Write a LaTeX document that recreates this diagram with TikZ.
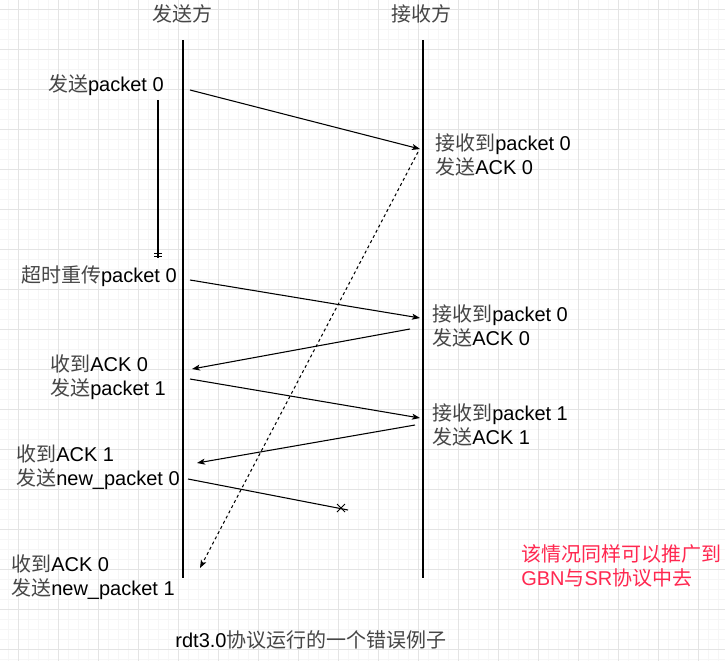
\documentclass[tikz,border=0pt]{standalone}
\usepackage{fontspec}
\setmainfont{Liberation Sans}
\newfontfamily\cjkfont{Noto Sans CJK SC}
\usetikzlibrary{arrows.meta}
\definecolor{gridminor}{RGB}{246,246,246}
\definecolor{gridmajor}{RGB}{228,228,228}
\definecolor{notered}{RGB}{255,40,80}
\definecolor{cjkgray}{RGB}{70,70,70}
\newcommand{\zh}[1]{{\cjkfont\color{cjkgray}#1}}
\newcommand{\twolines}[2]{\begin{tabular}[t]{@{}l@{}}#1\\#2\end{tabular}}
\begin{document}
\begin{tikzpicture}[x=0.75pt,y=-0.75pt,
  lbl/.style={inner sep=0pt, font=\fontsize{15}{18}\selectfont},
  msg/.style={line width=0.8pt, -{Stealth[length=6pt,width=4.5pt,inset=1.5pt]}},
  life/.style={line width=0.9pt},
  lost/.style={line width=0.8pt}]
\useasboundingbox (0,0) rectangle (725,661);
\fill[white] (0,0) rectangle (725,661);
% grid
\foreach \x in {8,18,...,718} \draw[gridminor,line width=0.75pt] (\x,0) -- (\x,661);
\foreach \y in {9,19,...,659} \draw[gridminor,line width=0.75pt] (0,\y) -- (725,\y);
\foreach \x in {18,58,...,698} \draw[gridmajor,line width=0.75pt] (\x,0) -- (\x,661);
\foreach \y in {9,49,...,649} \draw[gridmajor,line width=0.75pt] (0,\y) -- (725,\y);

% headers
\node[lbl, anchor=base] (hs) at (182,21) {\zh{发送方}};
\node[lbl, anchor=base] (hr) at (421,21) {\zh{接收方}};

% lifelines
\coordinate (sTop) at (183,40);
\coordinate (sBot) at (183,578);
\coordinate (rTop) at (423,40);
\coordinate (rBot) at (423,578);
\draw[life] (sTop) -- (sBot);
\draw[life] (rTop) -- (rBot);

% labels
\node[lbl, anchor=base east] (l1) at (164,91) {\zh{发送}packet 0};
\node[lbl, anchor=base east] (l2) at (177,282) {\zh{超时重传}packet 0};
\node[lbl, anchor=base west] (r1) at (435,150) {\twolines{\zh{接收到}packet 0}{\zh{发送}ACK 0}};
\node[lbl, anchor=base west] (r2) at (432,321) {\twolines{\zh{接收到}packet 0}{\zh{发送}ACK 0}};
\node[lbl, anchor=base west] (r3) at (432,420) {\twolines{\zh{接收到}packet 1}{\zh{发送}ACK 1}};
\node[lbl, anchor=base west] (l3) at (50,371) {\twolines{\zh{收到}ACK 0}{\zh{发送}packet 1}};
\node[lbl, anchor=base west] (l4) at (16,461) {\twolines{\zh{收到}ACK 1}{\zh{发送}new\_packet 0}};
\node[lbl, anchor=base west] (l5) at (11,571) {\twolines{\zh{收到}ACK 0}{\zh{发送}new\_packet 1}};
\node[lbl, anchor=base west, text=notered] (note) at (521,561)
  {\twolines{{\cjkfont 该情况同样可以推广到}}{GBN{\cjkfont 与}SR{\cjkfont 协议中去}}};
\node[lbl, anchor=base] (title) at (311,647) {rdt3.0\zh{协议运行的一个错误例子}};

% message endpoints
\coordinate (a1) at (190,90);   \coordinate (b1) at (420,149);
\coordinate (d1) at (418,152);  \coordinate (d2) at (200,568);
\coordinate (t1) at (158,100);  \coordinate (t2) at (158,258);
\coordinate (a2) at (190,280);  \coordinate (b2) at (420,318);
\coordinate (b3) at (410,329);  \coordinate (a3) at (192,369);
\coordinate (a4) at (190,379);  \coordinate (b4) at (420,418);
\coordinate (b5) at (415,425);  \coordinate (a5) at (197,463);
\coordinate (a6) at (188,479);  \coordinate (x1) at (348,510);
\coordinate (xc) at (341,508);

\draw[msg] (a1) -- (b1);
\draw[msg, dash pattern=on 2.2pt off 2.2pt] (d1) -- (d2);
\draw[line width=0.9pt] (t1) -- (t2);
\draw[line width=0.75pt] ([shift={(-4,-5)}]t2) -- ([shift={(4,-5)}]t2);
\draw[line width=0.75pt] ([shift={(-4,-1.5)}]t2) -- ([shift={(4,-1.5)}]t2);
\draw[msg] (a2) -- (b2);
\draw[msg] (b3) -- (a3);
\draw[msg] (a4) -- (b4);
\draw[msg] (b5) -- (a5);
\draw[lost] (a6) -- (x1);
\draw[line width=0.6pt] ([shift={(-4,-4)}]xc) -- ([shift={(4,4)}]xc);
\draw[line width=0.6pt] ([shift={(-4,4)}]xc) -- ([shift={(4,-4)}]xc);
\end{tikzpicture}
\end{document}
